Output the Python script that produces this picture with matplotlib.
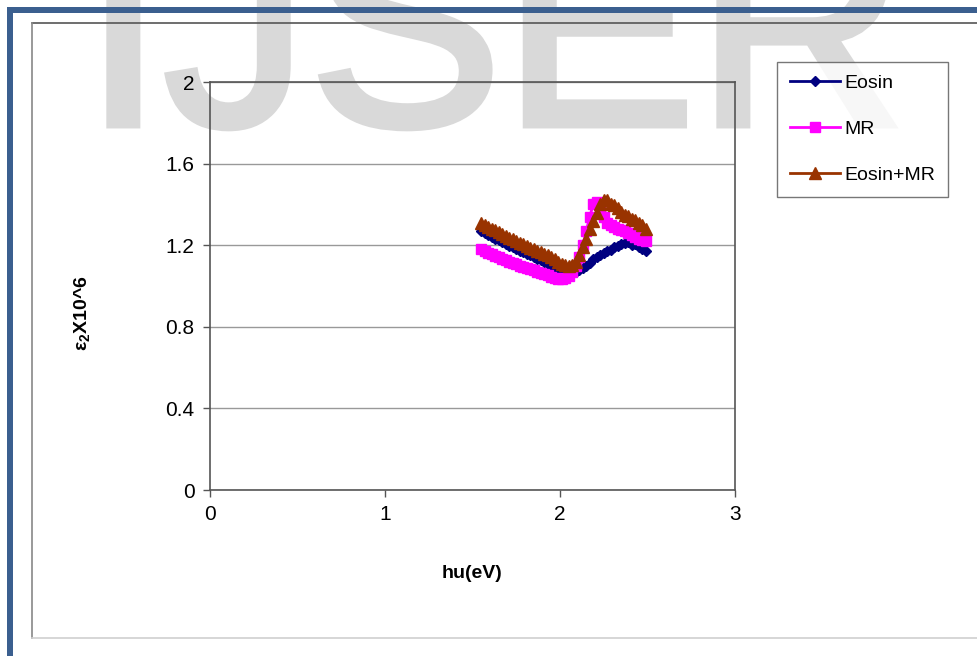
import numpy as np
import matplotlib.pyplot as plt
import matplotlib.patheffects as pe
from matplotlib.patches import Rectangle

plt.rcParams['font.family'] = ['Liberation Sans', 'DejaVu Sans']
plt.rcParams['mathtext.fontset'] = 'custom'
plt.rcParams['mathtext.rm'] = 'Liberation Sans'
plt.rcParams['mathtext.bf'] = 'Liberation Sans:bold'

# photon energy (eV)
energy = [1.55, 1.57, 1.59, 1.61, 1.63, 1.65, 1.67, 1.69, 1.71, 1.73,
          1.75, 1.77, 1.79, 1.81, 1.83, 1.85, 1.87, 1.89, 1.91, 1.93,
          1.95, 1.97, 1.99, 2.01, 2.03, 2.05, 2.07, 2.09, 2.11, 2.13,
          2.15, 2.17, 2.19, 2.21, 2.23, 2.25, 2.27, 2.29, 2.31, 2.33,
          2.35, 2.37, 2.39, 2.41, 2.43, 2.45, 2.47, 2.49]

eosin = [1.27, 1.26, 1.25, 1.24, 1.232, 1.224, 1.215, 1.206, 1.198, 1.19,
         1.182, 1.174, 1.166, 1.158, 1.15, 1.142, 1.134, 1.126, 1.118, 1.11,
         1.10, 1.09, 1.08, 1.07, 1.065, 1.06, 1.062, 1.068, 1.078, 1.09,
         1.10, 1.115, 1.13, 1.14, 1.15, 1.16, 1.17, 1.175, 1.19, 1.195,
         1.205, 1.21, 1.215, 1.20, 1.205, 1.19, 1.18, 1.17]

mr = [1.18, 1.17, 1.16, 1.155, 1.147, 1.14, 1.133, 1.126, 1.12, 1.113,
      1.106, 1.10, 1.094, 1.088, 1.082, 1.076, 1.07, 1.064, 1.058, 1.052,
      1.046, 1.04, 1.035, 1.035, 1.04, 1.05, 1.07, 1.10, 1.14, 1.20,
      1.27, 1.34, 1.40, 1.41, 1.38, 1.34, 1.31, 1.30, 1.29, 1.28,
      1.275, 1.27, 1.26, 1.25, 1.24, 1.23, 1.225, 1.22]

eosin_mr = [1.31, 1.30, 1.29, 1.28, 1.275, 1.265, 1.255, 1.245, 1.237, 1.228,
            1.22, 1.212, 1.204, 1.196, 1.188, 1.18, 1.172, 1.165, 1.158, 1.15,
            1.14, 1.13, 1.12, 1.11, 1.105, 1.10, 1.105, 1.12, 1.15, 1.19,
            1.23, 1.28, 1.32, 1.36, 1.40, 1.42, 1.42, 1.40, 1.395, 1.38,
            1.365, 1.35, 1.345, 1.33, 1.325, 1.31, 1.30, 1.28]

fig = plt.figure(figsize=(9.78, 6.56), dpi=100)

# watermark behind everything
wm = fig.text(83/978, 1 - 125/656, 'IJSER', fontsize=209, color='#d9d9d9',
              ha='left', va='baseline', zorder=-5)
wm.set_path_effects([pe.withStroke(linewidth=5, foreground='#d9d9d9',
                                   joinstyle='miter')])

# page decoration: blue frame and grey chart border
fig.add_artist(Rectangle((7/978, 0), 6/978, 1 - 7/656, transform=fig.transFigure,
                         color='#3b5f8f', lw=0, zorder=1))
fig.add_artist(Rectangle((7/978, 1 - 13/656), 1, 6/656, transform=fig.transFigure,
                         color='#3b5f8f', lw=0, zorder=1))
fig.add_artist(plt.Line2D([32/978, 1], [1 - 23/656] * 2, transform=fig.transFigure,
                          color='#555555', lw=1.2))
fig.add_artist(plt.Line2D([32/978] * 2, [1 - 23/656, 1 - 638/656], transform=fig.transFigure,
                          color='#888888', lw=1.2))
fig.add_artist(plt.Line2D([32/978, 1], [1 - 638/656] * 2, transform=fig.transFigure,
                          color='#d0d0d0', lw=1.2))

ax = fig.add_axes([210/978, 1 - 490/656, 525/978, 408/656])
ax.patch.set_alpha(0)

ax.plot(energy, eosin, color='#000080', marker='D', markersize=5.5, lw=2, label='Eosin')
ax.plot(energy, mr, color='#ff00ff', marker='s', markersize=7, lw=2, label='MR')
ax.plot(energy, eosin_mr, color='#993300', marker='^', markersize=8.5, lw=2, label='Eosin+MR')

ax.set_xlim(0, 3)
ax.set_ylim(0, 2)
ax.set_xticks([0, 1, 2, 3])
ax.set_yticks([0, 0.4, 0.8, 1.2, 1.6, 2])
ax.set_yticklabels(['0', '0.4', '0.8', '1.2', '1.6', '2'])
ax.yaxis.grid(True, color='#999999', lw=1)
ax.set_axisbelow(True)
for s in ax.spines.values():
    s.set_color('#555555')
    s.set_linewidth(1.2)
ax.tick_params(colors='#555555', labelcolor='black', labelsize=15, length=5, width=1)
ax.tick_params(axis='x', pad=6)
ax.tick_params(axis='y', pad=6)

ax.set_xlabel('hu(eV)', fontsize=14, fontweight='bold', va='top')
ax.xaxis.set_label_coords(0.5, -0.184)
ax.set_ylabel(r'ε$_\mathbf{2}$X10^6', fontsize=14, fontweight='bold')
ax.yaxis.set_label_coords(-0.223, 0.434)

leg = ax.legend(loc='upper left', bbox_to_anchor=(777/978, 1 - 62/656),
                bbox_transform=fig.transFigure, borderaxespad=0, fancybox=False,
                edgecolor='#555555', fontsize=14, numpoints=1, handlelength=2.6,
                labelspacing=1.45, borderpad=0.65, handletextpad=0.2)
leg.get_frame().set_linewidth(1)

fig.savefig('out.png', dpi=100)
